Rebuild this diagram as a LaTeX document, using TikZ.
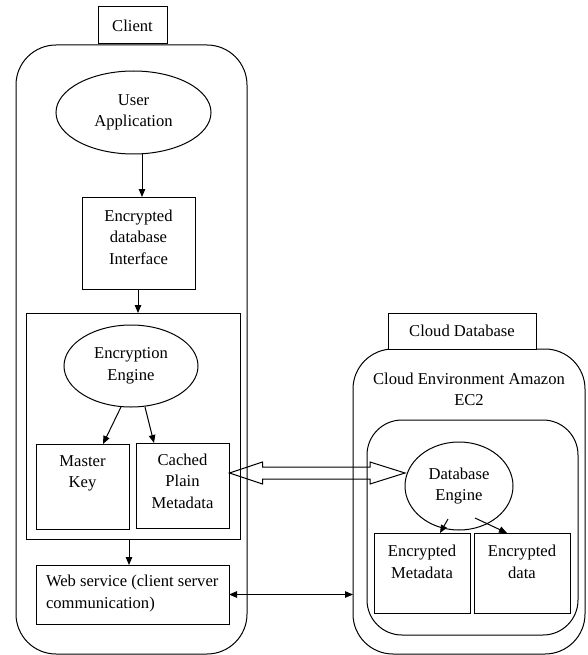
\documentclass[tikz,border=0pt]{standalone}
\usepackage{fontspec}
\setmainfont{Liberation Serif}
\usetikzlibrary{arrows.meta,shapes.geometric,calc}
\begin{document}
\begin{tikzpicture}[x=1pt,y=-1pt,
  every node/.style={font=\fontsize{16.6}{21.5}\selectfont, inner sep=0pt, outer sep=0pt},
  box/.style={draw, line width=1pt, rectangle, minimum width=#1},
  rbox/.style={draw, line width=1pt, rectangle, rounded corners=#1},
  oval/.style={draw, line width=1pt, ellipse},
  txt/.style={align=center},
  arr/.style={line width=1pt, -{Triangle[length=8pt,width=6.5pt]}},
  darr/.style={line width=1pt, {Triangle[length=8pt,width=6.5pt]}-{Triangle[length=8pt,width=6.5pt]}}
]
\useasboundingbox (0,0) rectangle (587,655);

% Client
\node[rbox=40pt, minimum width=231pt, minimum height=609pt] (client) at (131.5,349.5) {};
\node[box=69pt, minimum height=37pt, fill=white] (clientlbl) at (132.5,25.5) {Client};
\node[oval, minimum width=155pt, minimum height=83pt, txt] (ua) at (133.5,112.5) {User\\Application};
\node[box=113pt, minimum height=92pt] (edi) at (138.5,243) {};
\node[txt] (edit) at (138.5,237) {Encrypted\\database\\Interface};
\node[box=214pt, minimum height=226pt] (enc) at (133,426) {};
\node[oval, minimum width=134pt, minimum height=82pt, txt] (ee) at (131,366) {Encryption\\Engine};
\node[box=93pt, minimum height=85pt] (mk) at (82.5,486.5) {};
\node[txt] (mkt) at (82.5,473.5) {Master\\Key};
\node[box=93pt, minimum height=85pt] (cp) at (182.5,485.5) {};
\node[txt] (cpt) at (182.5,481) {Cached\\Plain\\Metadata};
\node[box=193pt, minimum height=59pt] (ws) at (132.5,594.5) {};
\node[align=left, anchor=west] (wst) at (46,593.5) {Web service (client server\\communication)};

% Cloud
\node[rbox=40pt, minimum width=232pt, minimum height=305pt] (cloud) at (469,501.5) {};
\node[box=148pt, minimum height=36pt, fill=white] (cloudlbl) at (462,331) {Cloud Database};
\node[txt] (cloudt) at (469,389.5) {Cloud Environment Amazon\\EC2};
\node[rbox=35pt, minimum width=211pt, minimum height=215pt] (dbin) at (472.5,527.5) {};
\node[oval, minimum width=108pt, minimum height=88pt, txt] (de) at (459,486) {Database\\Engine};
\node[box=96pt, minimum height=80pt] (em) at (422,573) {};
\node[txt] (emt) at (422,562) {Encrypted\\Metadata};
\node[box=96pt, minimum height=80pt] (ed) at (522,573) {};
\node[txt] (edt) at (522,562) {Encrypted\\data};

% connectors
\draw[arr] ($(ua.south)+(8.5,0)$) -- ($(edi.north)+(3.5,0)$);
\draw[arr] ($(edi.south)+(-0.5,0)$) -- ($(enc.north)+(5,0)$);
\draw[arr] ($(ee.south)+(-10,0)$) -- ($(mk.north)+(20.5,0)$);
\draw[arr] ($(ee.south)+(14,0)$) -- ($(cp.north)+(-28.5,0)$);
\draw[arr] ($(enc.south)+(-4,0)$) -- ($(ws.north)+(-3.5,0)$);
\draw[arr] ($(de.south)+(-11,-11)$) -- ($(em.north)+(18,0)$);
\draw[arr] ($(de.south)+(16,-12)$) -- ($(ed.north)+(-15,0)$);
\draw[darr] (ws.east) -- (ws.east -| cloud.west);

% hollow double arrow between cached metadata and database engine
\coordinate (hl) at ($(cp.east)+(0.5,-12.5)$);
\coordinate (hr) at ($(de.west)+(0,-13)$);
\draw[line width=1pt, line join=miter]
  (hl) -- ++(33,-11) -- ++(0,5) -- ($(hr)+(-35,-6)$) -- ++(0,-5) -- (hr)
  -- ++(-35,11) -- ++(0,-5) -- ($(hl)+(33,6)$) -- ++(0,5) -- cycle;
\end{tikzpicture}
\end{document}
